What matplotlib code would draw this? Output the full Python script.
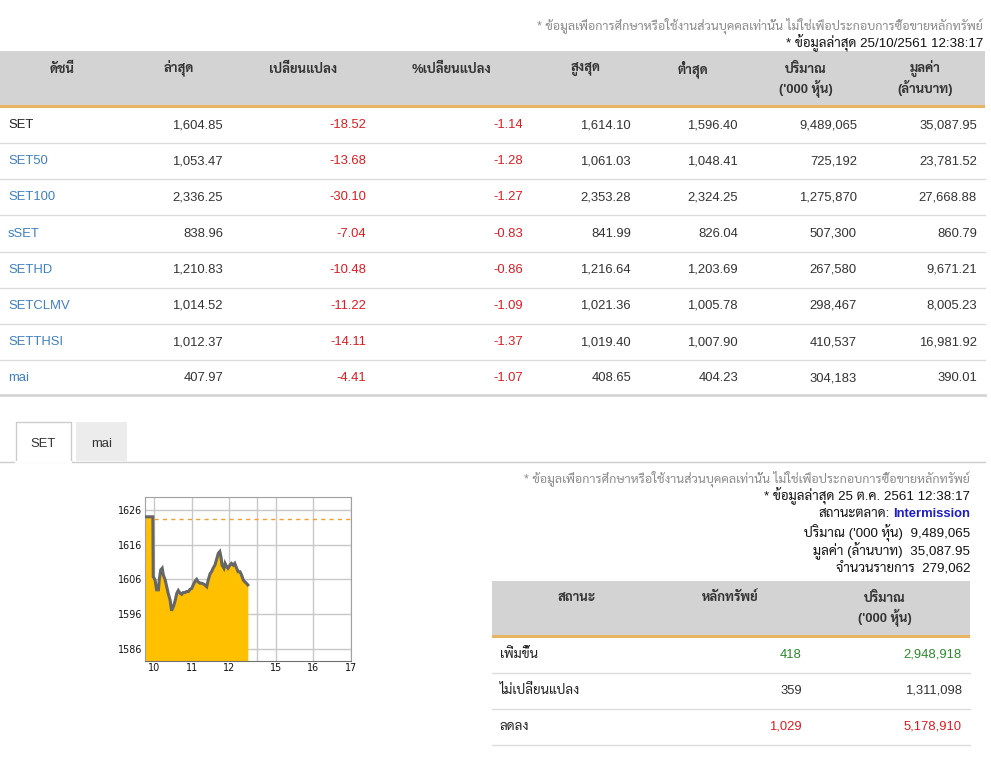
import numpy as np
import matplotlib
matplotlib.use("Agg")
import matplotlib.pyplot as plt
from matplotlib.patches import Rectangle

plt.rcParams['font.family'] = ['Liberation Sans', 'Sarabun', 'Anuphan', 'DejaVu Sans']

# ---- index table ----
headers = ['ดัชนี', 'ล่าสุด', 'เปลี่ยนแปลง', '%เปลี่ยนแปลง', 'สูงสุด', 'ต่ำสุด',
           "ปริมาณ\n('000 หุ้น)", 'มูลค่า\n(ล้านบาท)']
names = ['SET', 'SET50', 'SET100', 'sSET', 'SETHD', 'SETCLMV', 'SETTHSI', 'mai']
last = ['1,604.85', '1,053.47', '2,336.25', '838.96', '1,210.83', '1,014.52', '1,012.37', '407.97']
change = ['-18.52', '-13.68', '-30.10', '-7.04', '-10.48', '-11.22', '-14.11', '-4.41']
pct = ['-1.14', '-1.28', '-1.27', '-0.83', '-0.86', '-1.09', '-1.37', '-1.07']
high = ['1,614.10', '1,061.03', '2,353.28', '841.99', '1,216.64', '1,021.36', '1,019.40', '408.65']
low = ['1,596.40', '1,048.41', '2,324.25', '826.04', '1,203.69', '1,005.78', '1,007.90', '404.23']
volume = ['9,489,065', '725,192', '1,275,870', '507,300', '267,580', '298,467', '410,537', '304,183']
value = ['35,087.95', '23,781.52', '27,668.88', '860.79', '9,671.21', '8,005.23', '16,981.92', '390.01']

# ---- market summary ----
status = ['เพิ่มขึ้น', 'ไม่เปลี่ยนแปลง', 'ลดลง']
n_sec = ['418', '359', '1,029']
status_vol = ['2,948,918', '1,311,098', '5,178,910']

# ---- SET intraday (hours, index) ----
prev_close = 1623.37
t_hr = [9.75, 9.96, 9.97, 10.02, 10.06, 10.11, 10.13, 10.17, 10.21, 10.24, 10.29, 10.33,
        10.37, 10.42, 10.46, 10.51, 10.55, 10.60, 10.64, 10.69, 10.73, 10.77, 10.82, 10.86,
        10.91, 10.95, 11.00, 11.04, 11.09, 11.13, 11.17, 11.22, 11.26, 11.31, 11.35, 11.40,
        11.44, 11.49, 11.53, 11.57, 11.62, 11.66, 11.71, 11.75, 11.78, 11.81, 11.86, 11.89,
        11.93, 11.97, 12.02, 12.06, 12.11, 12.15, 12.20, 12.24, 12.29, 12.33, 12.38, 12.42,
        12.46, 12.50]
idx = [1624.0, 1624.0, 1606.8, 1605.8, 1603.0, 1603.0, 1605.8, 1608.7, 1609.2, 1607.3,
       1605.8, 1603.9, 1602.0, 1600.1, 1597.0, 1598.2, 1599.6, 1602.0, 1602.8, 1602.0,
       1601.7, 1602.2, 1602.2, 1602.5, 1602.5, 1603.1, 1603.4, 1604.4, 1605.5, 1606.0,
       1605.3, 1604.9, 1604.9, 1604.7, 1604.4, 1603.9, 1605.8, 1607.6, 1608.2, 1609.2,
       1610.1, 1611.6, 1613.5, 1614.0, 1612.5, 1610.1, 1609.2, 1610.6, 1609.7, 1609.2,
       1610.1, 1610.6, 1610.1, 1610.6, 1609.2, 1608.2, 1608.2, 1607.3, 1605.8, 1605.3,
       1604.9, 1604.4]
y_ticks = [1586, 1596, 1606, 1616, 1626]
x_ticks = [10, 11, 12, 13.25, 14.25, 15.25]   # afternoon shifted by the lunch gap
x_labels = ['10', '11', '12', '15', '16', '17']

fig = plt.figure(figsize=(9.91, 7.58), dpi=100)
ax = fig.add_axes([0, 0, 1, 1])
ax.set_xlim(0, 991)
ax.set_ylim(758, 0)
ax.axis('off')
rend = fig.canvas.get_renderer()

grey_txt = '#8a8a8a'
red = '#dd1c24'
green = '#2a8a2a'
blue_link = '#3f80c0'
txt = '#333333'
fs = 9.4

disclaimer = '* ข้อมูลเพื่อการศึกษาหรือใช้งานส่วนบุคคลเท่านั้น ไม่ใช่เพื่อประกอบการซื้อขายหลักทรัพย์'
ax.text(983, 26, disclaimer, ha='right', va='center', fontsize=9, color=grey_txt)
ax.text(983, 43, '* ข้อมูลล่าสุด 25/10/2561 12:38:17', ha='right', va='center', fontsize=9.6, color='#111111')

# header band
ax.add_patch(Rectangle((0, 51), 985, 54, color='#d3d3d3', lw=0))
ax.add_patch(Rectangle((0, 105), 985, 3, color='#e8b461', lw=0))
head_x = [62, 179, 303, 452, 586, 693, 806, 925]
for hx, h in zip(head_x, headers):
    lines = h.split('\n')
    for k, part in enumerate(lines):
        ax.text(hx, 69 + 19 * k, part, ha='center', va='center', fontsize=fs,
                weight='bold', color=txt)

row_h = 36.2
col_r = [223, 366, 523, 631, 738, 857, 977]
for i in range(len(names)):
    yc = 125 + i * row_h
    ax.text(8, yc, names[i], ha='left', va='center', fontsize=fs,
            color='#222222' if i == 0 else blue_link)
    vals = [last[i], change[i], pct[i], high[i], low[i], volume[i], value[i]]
    for j, (cx, v) in enumerate(zip(col_r, vals)):
        c = red if j in (1, 2) and v.startswith('-') else txt
        ax.text(cx, yc, v, ha='right', va='center', fontsize=fs, color=c)
    if i < len(names) - 1:
        ax.plot([0, 985], [yc + 18, yc + 18], color='#dddddd', lw=1)
ax.plot([0, 985], [395, 395], color='#d6d6d6', lw=2)

# tabs
ax.plot([0, 985], [461.5, 461.5], color='#cccccc', lw=1)
ax.add_patch(Rectangle((15.5, 422), 55, 40, facecolor='white', edgecolor='#cccccc', lw=1, zorder=3))
ax.plot([16, 70], [461.5, 461.5], color='white', lw=2, zorder=4)
ax.add_patch(Rectangle((76, 422), 51, 39, facecolor='#ececec', edgecolor='none', zorder=3))
ax.text(43, 444, 'SET', ha='center', va='center', fontsize=fs, color=txt, zorder=5)
ax.text(101.5, 444, 'mai', ha='center', va='center', fontsize=fs, color=txt, zorder=5)

# market info block
ax.text(970, 479, disclaimer, ha='right', va='center', fontsize=9, color=grey_txt)
ax.text(970, 496, '* ข้อมูลล่าสุด 25 ต.ค. 2561 12:38:17', ha='right', va='center', fontsize=9.6, color='#111111')
t_int = ax.text(970, 514, 'Intermission', ha='right', va='center', fontsize=fs,
                weight='bold', color='#1c1cc8')
w = t_int.get_window_extent(renderer=rend).width
ax.text(970 - w - 3, 514, 'สถานะตลาด:', ha='right', va='center', fontsize=9.6, color='#111111')
ax.text(970, 533, "ปริมาณ ('000 หุ้น)  9,489,065", ha='right', va='center', fontsize=9.6, color='#111111')
ax.text(970, 551, 'มูลค่า (ล้านบาท)  35,087.95', ha='right', va='center', fontsize=9.6, color='#111111')
ax.text(970, 569, 'จำนวนรายการ  279,062', ha='right', va='center', fontsize=9.6, color='#111111')

ax.add_patch(Rectangle((492, 581), 478, 54, color='#d3d3d3', lw=0))
ax.add_patch(Rectangle((492, 635), 478, 3, color='#e8b461', lw=0))
ax.text(577, 598, 'สถานะ', ha='center', va='center', fontsize=fs, weight='bold', color=txt)
ax.text(730, 598, 'หลักทรัพย์', ha='center', va='center', fontsize=fs, weight='bold', color=txt)
ax.text(885, 598, 'ปริมาณ', ha='center', va='center', fontsize=fs, weight='bold', color=txt)
ax.text(885, 617, "('000 หุ้น)", ha='center', va='center', fontsize=fs, weight='bold', color=txt)
s_cols = [green, txt, red]
for i in range(len(status)):
    yc = 654.5 + i * 36
    ax.text(500, yc, status[i], ha='left', va='center', fontsize=9.6, color='#222222')
    ax.text(802, yc, n_sec[i], ha='right', va='center', fontsize=fs, color=s_cols[i])
    ax.text(962, yc, status_vol[i], ha='right', va='center', fontsize=fs, color=s_cols[i])
    ax.plot([492, 970], [yc + 18, yc + 18], color='#dddddd', lw=1)

# ---- intraday chart ----
cx = fig.add_axes([145 / 991, (758 - 660.7) / 758, 205.7 / 991, 163.7 / 758])
cx.set_xlim(9.75, 15.25)
cx.set_ylim(1582.6, 1629.7)
cx.set_xticks(x_ticks + [12.75])
cx.set_xticklabels(x_labels + [''])
cx.set_yticks(y_ticks)
cx.grid(True, color='#c8c8c8', lw=1)
cx.set_axisbelow(True)
cx.tick_params(length=0, labelsize=6.9, pad=2, colors='#111111')
for lab in cx.get_xticklabels() + cx.get_yticklabels():
    lab.set_family('DejaVu Sans')
for s in ['top', 'right', 'left']:
    cx.spines[s].set_color('#a0a0a0')
cx.spines['bottom'].set_color('#707070')
cx.fill_between(t_hr, idx, 1582.6, color='#ffc000', lw=0, zorder=2)
cx.plot(t_hr, idx, color='#666666', lw=2.2, zorder=3, solid_joinstyle='miter')
cx.plot([10, 15.25], [prev_close, prev_close], color='#f0a030', lw=1, ls=(0, (3, 3)), zorder=3)

fig.savefig('out.png', dpi=100)
